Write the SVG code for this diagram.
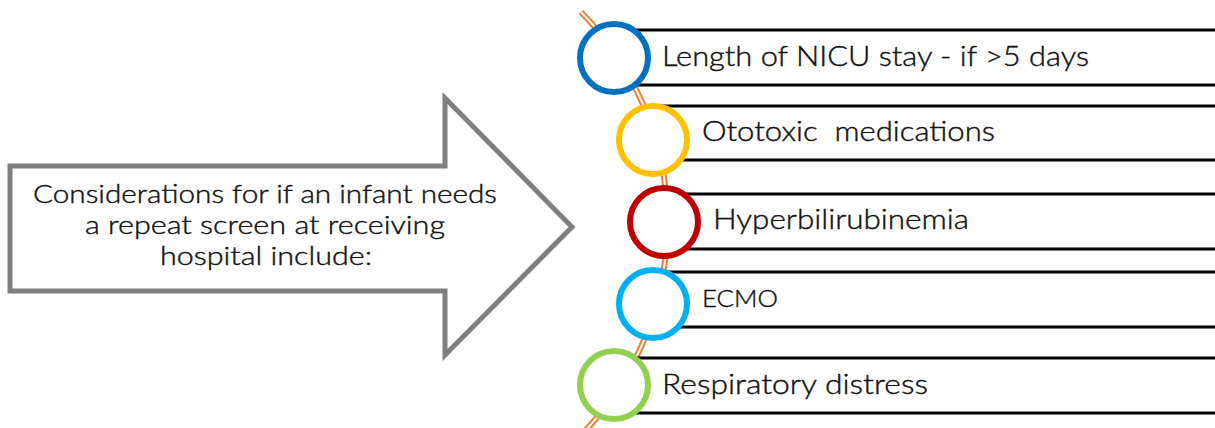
<svg xmlns="http://www.w3.org/2000/svg" width="1215" height="428" viewBox="0 0 1215 428">
  <style>
    .txt { font-family: "Lato", "Open Sans", "Liberation Sans", sans-serif; font-weight: 300; fill: #111; stroke: #111; stroke-width: 0.4; }
    .bar { stroke: #000; stroke-width: 3; fill: none; }
    .ring { fill: #fff; stroke-width: 6; }
    .spine { fill: none; }
  </style>
  <rect width="1215" height="428" fill="#fff"/>

  <!-- Block arrow carrying the lead-in text -->
  <g id="lead-arrow">
    <polygon points="10,166 445,166 445,98 572,227 445,355 445,291 10,291" fill="#fff" stroke="#7f7f7f" stroke-width="5" stroke-linejoin="miter"/>
    <text class="txt" font-size="25" text-anchor="middle" x="265" y="203" textLength="464" lengthAdjust="spacingAndGlyphs">Considerations for if an infant needs</text>
    <text class="txt" font-size="25" text-anchor="middle" x="265" y="234" textLength="360" lengthAdjust="spacingAndGlyphs">a repeat screen at receiving</text>
    <text class="txt" font-size="25" text-anchor="middle" x="266" y="265" textLength="212" lengthAdjust="spacingAndGlyphs">hospital include:</text>
  </g>

  <!-- Curved double spine linking the item circles -->
  <g id="connectors">
    <path class="spine" d="M 581 12 A 302 302 0 0 1 584 432" stroke="#ED7D31" stroke-width="6"/>
    <path class="spine" d="M 581 12 A 302 302 0 0 1 584 432" stroke="#fff" stroke-width="2"/>
  </g>

  <!-- Item rows: top and bottom rules, marker ring, label -->
  <g id="item-nicu-stay">
    <line class="bar" x1="614" y1="30" x2="1215" y2="30"/>
    <line class="bar" x1="614" y1="85" x2="1215" y2="85"/>
    <circle class="ring" cx="614" cy="58" r="34" stroke="#0070C0"/>
    <text class="txt" font-size="27" x="662" y="66" textLength="427" lengthAdjust="spacingAndGlyphs">Length of NICU stay - if &gt;5 days</text>
  </g>

  <g id="item-ototoxic">
    <line class="bar" x1="653" y1="106" x2="1215" y2="106"/>
    <line class="bar" x1="653" y1="160" x2="1215" y2="160"/>
    <circle class="ring" cx="653" cy="140" r="34" stroke="#FFC000"/>
    <text class="txt" font-size="27" x="702" y="141" textLength="293" lengthAdjust="spacingAndGlyphs" xml:space="preserve">Ototoxic  medications</text>
  </g>

  <g id="item-hyperbilirubinemia">
    <line class="bar" x1="664" y1="194" x2="1215" y2="194"/>
    <line class="bar" x1="664" y1="249" x2="1215" y2="249"/>
    <circle class="ring" cx="664" cy="222" r="34" stroke="#C00000"/>
    <text class="txt" font-size="27" x="713" y="229" textLength="256" lengthAdjust="spacingAndGlyphs">Hyperbilirubinemia</text>
  </g>

  <g id="item-ecmo">
    <line class="bar" x1="653" y1="272" x2="1215" y2="272"/>
    <line class="bar" x1="653" y1="327" x2="1215" y2="327"/>
    <circle class="ring" cx="653" cy="304" r="34" stroke="#00B0F0"/>
    <text class="txt" font-size="24" x="702" y="307" textLength="76" lengthAdjust="spacingAndGlyphs">ECMO</text>
  </g>

  <g id="item-respiratory">
    <line class="bar" x1="614" y1="358" x2="1215" y2="358"/>
    <line class="bar" x1="614" y1="413" x2="1215" y2="413"/>
    <circle class="ring" cx="614" cy="385" r="34" stroke="#92D050"/>
    <text class="txt" font-size="27" x="662" y="394" textLength="266" lengthAdjust="spacingAndGlyphs">Respiratory distress</text>
  </g>
</svg>
